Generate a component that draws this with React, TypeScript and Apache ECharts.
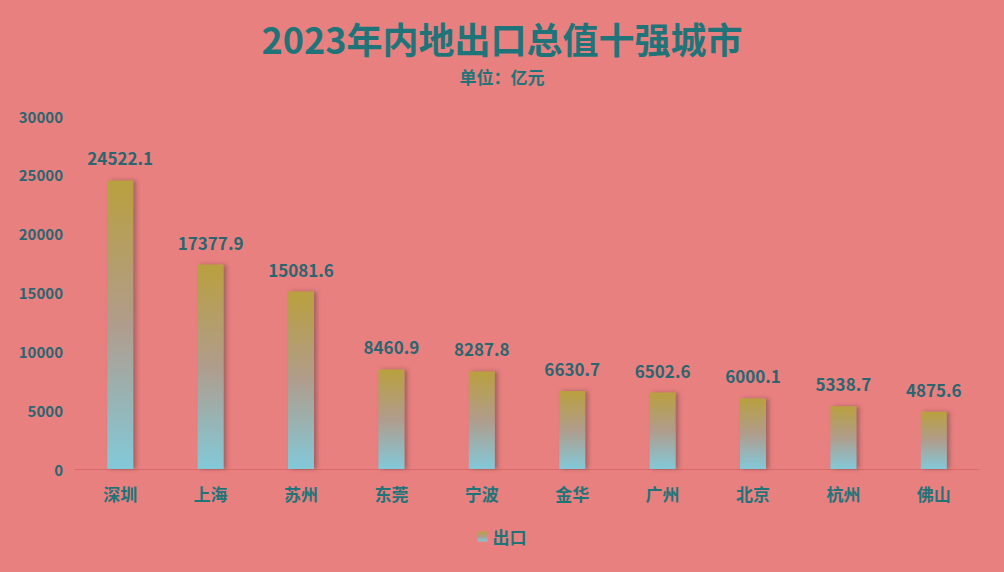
import React, { useEffect, useRef } from "react";
import * as echarts from "echarts";

const cities = ["深圳", "上海", "苏州", "东莞", "宁波", "金华", "广州", "北京", "杭州", "佛山"];
const exportValues = [24522.1, 17377.9, 15081.6, 8460.9, 8287.8, 6630.7, 6502.6, 6000.1, 5338.7, 4875.6];
const titleText = "2023年内地出口总值十强城市";
const subtitleText = "单位：亿元";
const seriesName = "出口";

const TEAL = "#1f7479";
const FONT = "'Noto Sans CJK SC', 'Noto Sans', sans-serif";

export default function App() {
  const ref = useRef<HTMLDivElement>(null);
  useEffect(() => {
    document.body.style.margin = "0";
    if (!ref.current) return;
    const chart = echarts.init(ref.current, undefined, { renderer: "svg" });
    const grad = new echarts.graphic.LinearGradient(0, 0, 0, 1, [
      { offset: 0, color: "#b9a03e" },
      { offset: 0.5, color: "#b09c8c" },
      { offset: 1, color: "#82c9d9" },
    ]);
    chart.setOption({
      animation: false,
      backgroundColor: "#e98080",
      textStyle: { fontFamily: FONT },
      title: [
        {
          text: titleText,
          left: "center",
          top: 20,
          padding: 0,
          textStyle: { color: TEAL, fontSize: 36, lineHeight: 36, fontWeight: "bold", fontFamily: FONT },
        },
        {
          text: subtitleText,
          left: "center",
          top: 68,
          padding: 0,
          textStyle: { color: TEAL, fontSize: 17, lineHeight: 17, fontWeight: "bold", fontFamily: FONT },
        },
      ],
      legend: {
        data: [{ name: seriesName, icon: "rect" }],
        bottom: 22,
        left: "center",
        itemWidth: 10,
        itemHeight: 10,
        itemGap: 6,
        textStyle: { color: TEAL, fontSize: 17, fontWeight: "bold", fontFamily: FONT },
      },
      grid: { left: 75, right: 25, top: 116, bottom: 103, containLabel: false },
      xAxis: {
        type: "category",
        data: cities,
        axisTick: { show: false },
        axisLine: { lineStyle: { color: "#d96a6a", width: 1 } },
        axisLabel: { color: TEAL, fontSize: 17, fontWeight: "bold", margin: 16, fontFamily: FONT },
      },
      yAxis: {
        type: "value",
        min: 0,
        max: 30000,
        interval: 5000,
        splitLine: { show: false },
        axisLine: { show: false },
        axisTick: { show: false },
        axisLabel: {
          color: "#2a6670",
          fontSize: 15,
          fontWeight: "bold",
          margin: 12,
          fontFamily: FONT,
          formatter: (v: number) => String(v),
        },
      },
      series: [
        {
          name: seriesName,
          type: "bar",
          data: exportValues,
          barWidth: 26,
          itemStyle: {
            color: grad,
            shadowColor: "rgba(80,60,60,0.45)",
            shadowBlur: 4,
            shadowOffsetX: 3,
          },
          label: {
            show: true,
            position: "top",
            distance: 14,
            color: "#2a6670",
            fontSize: 17,
            fontWeight: "bold",
            fontFamily: FONT,
          },
        },
      ],
    });
    return () => chart.dispose();
  }, []);
  return <div ref={ref} style={{ width: 1004, height: 572 }} />;
}
